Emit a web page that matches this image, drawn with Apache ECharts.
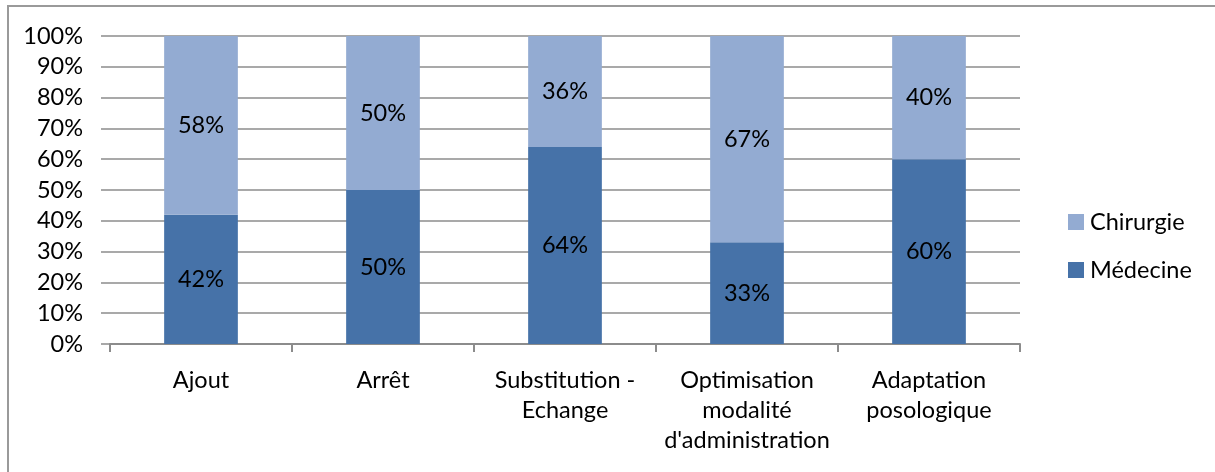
<!DOCTYPE html>
<html>
<head>
<meta charset="utf-8">
<script src="https://cdn.jsdelivr.net/npm/echarts@6/dist/echarts.min.js"></script>
<style>
html,body{margin:0;padding:0;background:#fff;}
#chart{width:1215px;height:472px;}
</style>
</head>
<body>
<div id="chart"></div>
<script>
const categories = ['Ajout', 'Arrêt', 'Substitution -\nEchange', 'Optimisation\nmodalité\nd\'administration', 'Adaptation\nposologique'];
const medecine = [42, 50, 64, 33, 60];
const chirurgie = [58, 50, 36, 67, 40];
const yTicks = { min: 0, max: 100, interval: 10 };

const FONT = 'Lato';
const FS = 23.5;
const chart = echarts.init(document.getElementById('chart'));
const labelStyle = {
  show: true, position: 'inside', color: '#000', fontFamily: FONT, fontSize: FS,
  formatter: p => p.value + '%'
};
chart.setOption({
  animation: false,
  textStyle: { fontFamily: FONT },
  graphic: [{
    type: 'rect', shape: { x: 8, y: 6, width: 1240, height: 500 },
    style: { fill: 'none', stroke: '#9a9a9a', lineWidth: 2 }, silent: true, z: 0
  }],
  grid: { left: 110, right: 195, top: 36, bottom: 128, containLabel: false },
  legend: {
    orient: 'vertical', left: 1063, top: 205, itemWidth: 16, itemHeight: 16, itemGap: 24,
    icon: 'rect',
    data: ['Chirurgie', 'Médecine'],
    textStyle: { fontFamily: FONT, fontSize: FS, color: '#000', lineHeight: 24, padding: [0, 0, 0, 1] }
  },
  xAxis: {
    type: 'category', data: categories,
    axisLine: { lineStyle: { color: '#8c8c8c', width: 2 } },
    axisTick: { show: true, length: 8, lineStyle: { color: '#8c8c8c', width: 2 } },
    axisLabel: { color: '#000', fontFamily: FONT, fontSize: FS, lineHeight: 30, margin: 21, interval: 0 }
  },
  yAxis: {
    type: 'value', min: yTicks.min, max: yTicks.max, interval: yTicks.interval,
    axisLine: { show: false },
    axisTick: { show: true, length: 9, lineStyle: { color: '#8c8c8c', width: 1.5 } },
    splitLine: { lineStyle: { color: '#8c8c8c', width: 1.5 } },
    axisLabel: { color: '#000', fontFamily: FONT, fontSize: FS, margin: 27, formatter: '{value}%' }
  },
  series: [
    { name: 'Médecine', type: 'bar', stack: 'total', data: medecine, barWidth: '40.5%',
      itemStyle: { color: '#4672a8' }, label: labelStyle },
    { name: 'Chirurgie', type: 'bar', stack: 'total', data: chirurgie, barWidth: '40.5%',
      itemStyle: { color: '#93abd2' }, label: labelStyle }
  ]
});
</script>
</body>
</html>
